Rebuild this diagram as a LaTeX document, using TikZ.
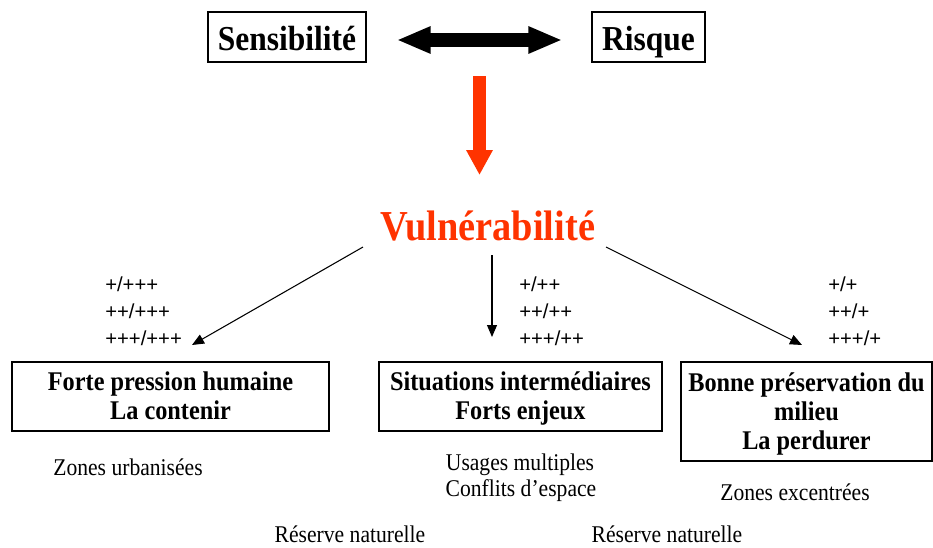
\documentclass[tikz,border=0pt]{standalone}
\usepackage{fontspec}
\setmainfont{Liberation Serif}[FakeStretch=0.9]
\newfontfamily\plusfont{Liberation Sans}
\usetikzlibrary{arrows.meta}
\definecolor{vred}{HTML}{FF3300}
\newcommand\bxtop{\rule{0pt}{19pt}}
\newcommand\bxbot{\rule[-6pt]{0pt}{6pt}}
\tikzset{
  topbox/.style={draw, line width=1pt, inner sep=0pt, minimum height=37.5pt,
    text height=19.5pt, text depth=0pt,
    font=\bfseries\fontsize{26.25}{30}\selectfont},
  lowbox/.style={draw, line width=1pt, inner sep=0pt, align=center,
    font=\bfseries\fontsize{20.25}{21.75}\selectfont},
  vultxt/.style={anchor=base, inner sep=0pt, text=vred,
    font=\bfseries\fontsize{32}{36}\selectfont},
  pluslbl/.style={anchor=base west, inner sep=0pt, font=\plusfont\fontsize{15.2}{18}\selectfont},
  note/.style={anchor=base, inner sep=0pt, font=\fontsize{18}{21}\selectfont},
  thinarrow/.style={line width=0.8pt, -{Triangle[length=9pt,width=7.5pt]}},
  bigdouble/.style={line width=10pt, {Triangle[length=25.5pt,width=18.75pt]}-{Triangle[length=25.5pt,width=18.75pt]}},
  redarrow/.style={line width=9.75pt, vred, -{Triangle[length=18.75pt,width=18.75pt]}}
}
\begin{document}
\begin{tikzpicture}[x=0.75pt,y=-0.75pt]
\useasboundingbox (0,0) rectangle (933,547);

% top boxes
\node[topbox, minimum width=118.5pt] (sens) at (287,37) {Sensibilité};
\node[topbox, minimum width=84.75pt] (risk) at (648.5,37) {Risque};

% double arrow
\draw[bigdouble, shorten <=22.5pt, shorten >=21.75pt]
  ([yshift=-2.25pt]sens.east) -- ([yshift=-2.25pt]risk.west);

% red arrow
\coordinate (redtop) at (479.5,76);
\coordinate (redtip) at (479.5,175);
\draw[redarrow] (redtop) -- (redtip);

% Vulnerabilite
\node[vultxt] (vul) at (488,240) {Vulnérabilité};

% thin arrows
\coordinate (ls) at (363,247);
\coordinate (le) at (192,345);
\coordinate (ms) at (492,255);
\coordinate (me) at (492,337);
\coordinate (rs) at (606,247);
\coordinate (re) at (802,345);
\draw[thinarrow] (ls) -- (le);
\draw[thinarrow] (ms) -- (me);
\draw[thinarrow] (rs) -- (re);

% plus labels
\node[pluslbl] (pl1) at (105,291) {+/+++};
\node[pluslbl] (pl2) at (105,318) {++/+++};
\node[pluslbl] (pl3) at (105,345) {+++/+++};
\node[pluslbl] (pm1) at (519,291) {+/++};
\node[pluslbl] (pm2) at (519,318) {++/++};
\node[pluslbl] (pm3) at (519,345) {+++/++};
\node[pluslbl] (pr1) at (828,291) {+/+};
\node[pluslbl] (pr2) at (828,318) {++/+};
\node[pluslbl] (pr3) at (828,345) {+++/+};

% lower boxes
\node[lowbox, minimum width=237.75pt, minimum height=51.75pt] (b1) at (170.5,396.5)
  {\bxtop Forte pression humaine\\La contenir\bxbot};
\node[lowbox, minimum width=212.25pt, minimum height=51.75pt] (b2) at (520.5,396.5)
  {\bxtop Situations intermédiaires\\Forts enjeux\bxbot};
\node[lowbox, minimum width=188.25pt, minimum height=74.25pt] (b3) at (806.5,411.5)
  {\bxtop Bonne préservation du\\milieu\\La perdurer\bxbot};

% notes
\node[note] (n1) at (128,475) {Zones urbanisées};
\node[note] (n2) at (520,470) {Usages multiples};
\node[note] (n3) at (521,496) {Conflits d’espace};
\node[note] (n4) at (795,500) {Zones excentrées};
\node[note] (n5) at (350,542) {Réserve naturelle};
\node[note] (n6) at (667,542) {Réserve naturelle};
\end{tikzpicture}
\end{document}
